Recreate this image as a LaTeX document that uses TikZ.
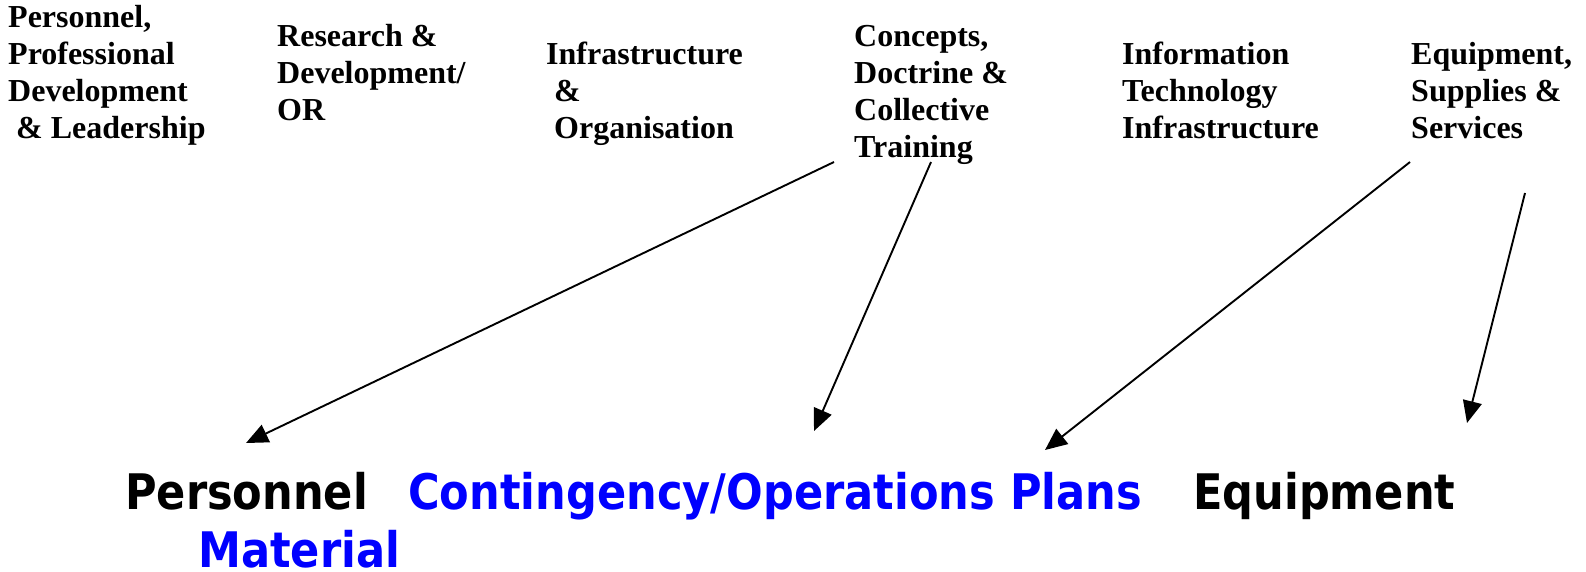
\documentclass[tikz,border=0pt]{standalone}
\usepackage{fontspec}
\setmainfont{Liberation Serif}
\newfontfamily\bigsans[FakeStretch=0.88]{DejaVu Sans Bold}
\usetikzlibrary{arrows.meta}
\definecolor{pureblue}{RGB}{0,0,255}
\tikzset{
  toplabel/.style={anchor=base west, inner sep=0pt, align=left,
    font=\fontsize{32}{37}\selectfont\bfseries},
  biglabel/.style={anchor=base west, inner sep=0pt,
    font=\fontsize{49}{57}\selectfont\bigsans},
  link/.style={line width=1.9pt, -{Triangle[length=22pt,width=19pt]}}
}
\begin{document}
\begin{tikzpicture}[x=1pt,y=-1pt]
\useasboundingbox (0,0) rectangle (1586,571);
% top categories (anchored at the baseline of the last line)
\node[toplabel] (pers) at (8,138) {Personnel,\\Professional\\Development\\\ \& Leadership};
\node[toplabel] (rd) at (277,120) {Research \&\\Development/\\OR};
\node[toplabel] (infra) at (546,138) {Infrastructure\\\ \&\\\ Organisation};
\node[toplabel] (cdt) at (854,157) {Concepts,\\Doctrine \&\\Collective\\Training};
\node[toplabel] (iti) at (1122,138) {Information\\Technology\\Infrastructure};
\node[toplabel] (ess) at (1411,138) {Equipment,\\Supplies \&\\Services};
% bottom outcomes
\node[biglabel] (personnel) at (125,509) {Personnel};
\node[biglabel, text=pureblue] (plans) at (408,509) {Contingency/Operations Plans};
\node[biglabel] (equip) at (1193,509) {Equipment};
\node[biglabel, text=pureblue] (material) at (198,567) {Material};
% arrow ends
\coordinate (s1) at (834,162);
\coordinate (s2) at (931,162);
\coordinate (s3) at (1410,162);
\coordinate (s4) at (1525,193);
\coordinate (t1) at (246,443);
\coordinate (t2) at (814,431);
\coordinate (t3) at (1045,450);
\coordinate (t4) at (1467,423);
\draw[link] (s1) -- (t1);
\draw[link] (s2) -- (t2);
\draw[link] (s3) -- (t3);
\draw[link] (s4) -- (t4);
\end{tikzpicture}
\end{document}
